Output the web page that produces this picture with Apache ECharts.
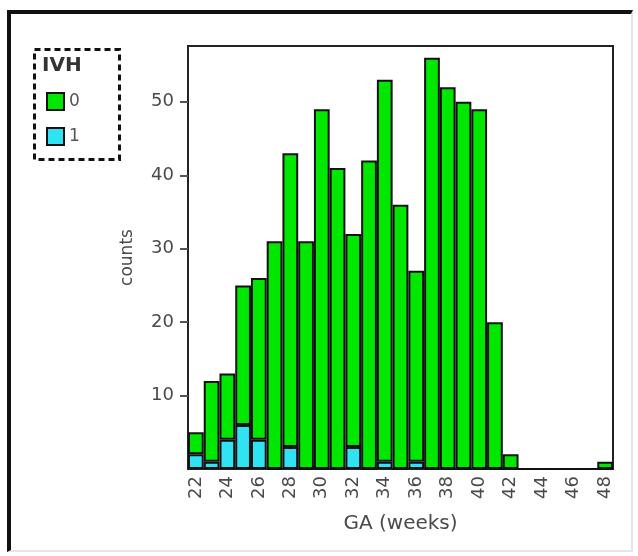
<!DOCTYPE html>
<html>
<head>
<meta charset="utf-8">
<script src="https://cdn.jsdelivr.net/npm/echarts@6/dist/echarts.min.js"></script>
<style>
html, body { margin: 0; padding: 0; background: #fff; }
#frame {
    position: absolute; left: 7px; top: 10px; width: 620px; height: 536px;
    border-top: 4px solid #111; border-left: 4px solid #111;
    border-right: 2px solid #e6e6e6; border-bottom: 2px solid #e6e6e6;
}
#main { position: absolute; left: 0; top: 0; width: 638px; height: 556px; }
</style>
</head>
<body>
<div id="frame"></div>
<div id="main"></div>
<script>
// GA weeks 22..48
const weeks = ['22','23','24','25','26','27','28','29','30','31','32','33','34','35',
               '36','37','38','39','40','41','42','43','44','45','46','47','48'];
// IVH = 0 counts (stacked on top)
const ivh0 = [3, 11, 9, 19, 22, 31, 40, 31, 49, 41, 29, 42, 52, 36,
              26, 56, 52, 50, 49, 20, 2, 0, 0, 0, 0, 0, 1];
// IVH = 1 counts (bottom)
const ivh1 = [2, 1, 4, 6, 4, 0, 3, 0, 0, 0, 3, 0, 1, 0,
              1, 0, 0, 0, 0, 0, 0, 0, 0, 0, 0, 0, 0];
const yTicks = [10, 20, 30, 40, 50];

const chart = echarts.init(document.getElementById('main'));
const font = 'DejaVu Sans';

const option = {
    animation: false,
    title: {
        text: 'IVH',
        left: 42,
        top: 56,
        padding: 0,
        textStyle: { fontSize: 20, fontWeight: 'bold', color: '#333', fontFamily: font }
    },
    legend: {
        orient: 'vertical',
        left: 46,
        top: 92,
        padding: 0,
        itemWidth: 17,
        itemHeight: 17,
        itemGap: 16,
        icon: 'rect',
        data: ['0', '1'],
        itemStyle: { borderColor: '#111', borderWidth: 2 },
        textStyle: { fontSize: 17, color: '#555', fontFamily: font }
    },
    graphic: [{
        type: 'rect',
        left: 32,
        top: 47,
        shape: { width: 85, height: 110 },
        style: { fill: 'none', stroke: '#111', lineWidth: 3, lineDash: [6, 4] }
    }],
    grid: {
        left: 188,
        top: 46,
        right: 25,
        bottom: 87,
        show: true,
        borderColor: '#222',
        borderWidth: 2
    },
    xAxis: {
        type: 'category',
        data: weeks,
        name: 'GA (weeks)',
        nameLocation: 'middle',
        nameGap: 45,
        nameTextStyle: { fontSize: 20, color: '#4a4a4a', fontFamily: font },
        axisLine: { lineStyle: { color: '#222', width: 2 } },
        axisTick: { alignWithLabel: true, interval: 0, length: 6, lineStyle: { color: '#555', width: 2 } },
        axisLabel: { interval: 1, rotate: 90, fontSize: 18, color: '#4a4a4a', margin: 7, fontFamily: font },
        splitLine: { show: false }
    },
    yAxis: {
        type: 'value',
        min: 0,
        max: 57.6,
        name: 'counts',
        nameLocation: 'middle',
        nameGap: 52,
        nameTextStyle: { fontSize: 17, color: '#4a4a4a', fontFamily: font },
        axisLine: { show: true, lineStyle: { color: '#222', width: 2 } },
        axisTick: { show: true, customValues: yTicks, length: 8, lineStyle: { color: '#555', width: 2 } },
        axisLabel: { customValues: yTicks, fontSize: 18, color: '#4a4a4a', margin: 14, fontFamily: font },
        splitLine: { show: false }
    },
    series: [{
        name: '1',
        type: 'bar',
        stack: 'ivh',
        data: ivh1,
        barCategoryGap: '0%',
        itemStyle: { color: '#2fe3f3', borderColor: '#111', borderWidth: 2 }
    }, {
        name: '0',
        type: 'bar',
        stack: 'ivh',
        data: ivh0,
        barCategoryGap: '0%',
        itemStyle: { color: '#00e800', borderColor: '#111', borderWidth: 2 }
    }]
};
chart.setOption(option);
</script>
</body>
</html>
